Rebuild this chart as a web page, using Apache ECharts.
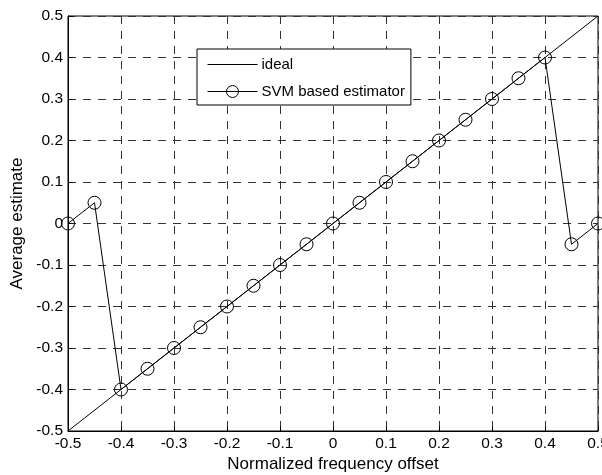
<!DOCTYPE html>
<html>
<head>
<meta charset="utf-8">
<script src="https://cdn.jsdelivr.net/npm/echarts@6/dist/echarts.min.js"></script>
<style>html,body{margin:0;padding:0;background:#fff}#c{width:602px;height:475px}</style>
</head>
<body>
<div id="c"></div>
<script>
var xValues = [-0.5,-0.45,-0.4,-0.35,-0.3,-0.25,-0.2,-0.15,-0.1,-0.05,0,0.05,0.1,0.15,0.2,0.25,0.3,0.35,0.4,0.45,0.5];
var svmValues = [0,0.05,-0.4,-0.35,-0.3,-0.25,-0.2,-0.15,-0.1,-0.05,0,0.05,0.1,0.15,0.2,0.25,0.3,0.35,0.4,-0.05,0];
var idealX = [-0.5, 0.5];
var idealY = [-0.5, 0.5];

var svmData = xValues.map(function(x,i){return [x, svmValues[i]];});
var idealData = idealX.map(function(x,i){return [x, idealY[i]];});

function fmt(v){ var r = Math.round(v*10)/10; return String(r); }
var FONT = 'Liberation Sans, Arial, sans-serif';

var chart = echarts.init(document.getElementById('c'), null, {renderer:'canvas'});
chart.setOption({
  animation: false,
  backgroundColor: '#fff',
  grid: {left:68, right:4, top:16, bottom:44, containLabel:false, outerBoundsMode:'none',
         show:true, borderColor:'#000', borderWidth:1, backgroundColor:'transparent'},
  legend: {
    left: 197, top: 49, orient: 'vertical',
    backgroundColor: '#fff',
    borderColor: '#000', borderWidth: 1, borderRadius: 0,
    padding: [8, 6, 6, 10],
    itemWidth: 50, itemHeight: 15, itemGap: 12,
    lineStyle: {width: 1},
    itemStyle: {borderWidth: 1},
    textStyle: {fontFamily: FONT, fontSize: 15, color:'#000', padding:[0,0,0,-1]},
    data: [
      {name:'ideal', itemStyle:{color:'rgba(0,0,0,0)', borderColor:'rgba(0,0,0,0)', borderWidth:0}},
      'SVM based estimator'
    ]
  },
  xAxis: {
    type:'value', min:-0.5, max:0.5, interval:0.1,
    name:'Normalized frequency offset', nameLocation:'middle', nameGap:25, nameMoveOverlap:false,
    nameTextStyle:{fontFamily:FONT, fontSize:17, color:'#000'},
    axisLine:{show:true, onZero:false, lineStyle:{color:'#000'}},
    axisTick:{show:true, inside:true, length:5, lineStyle:{color:'#000'}},
    axisLabel:{fontFamily:FONT, fontSize:15.5, color:'#000', margin:5, formatter:fmt, hideOverlap:false},
    splitLine:{show:true, lineStyle:{color:'#333', type:[8,7], width:1}}
  },
  yAxis: {
    type:'value', min:-0.5, max:0.5, interval:0.1,
    name:'Average estimate', nameLocation:'middle', nameGap:42, nameMoveOverlap:false,
    nameTextStyle:{fontFamily:FONT, fontSize:17, color:'#000'},
    axisLine:{show:true, onZero:false, lineStyle:{color:'#000'}},
    axisTick:{show:true, inside:true, length:5, lineStyle:{color:'#000'}},
    axisLabel:{fontFamily:FONT, fontSize:15.5, color:'#000', margin:5, formatter:fmt},
    splitLine:{show:true, lineStyle:{color:'#333', type:[8,7], width:1}}
  },
  series: [
    {
      name:'ideal', type:'line', data: idealData, symbol:'none',
      lineStyle:{color:'#000', width:1}, itemStyle:{color:'#000'}, z:3
    },
    {
      name:'SVM based estimator', type:'line', data: svmData,
      symbol:'circle', symbolSize:13,
      lineStyle:{color:'#000', width:1},
      itemStyle:{color:'rgba(0,0,0,0)', borderColor:'#000', borderWidth:1},
      z:4
    }
  ]
});
</script>
</body>
</html>
